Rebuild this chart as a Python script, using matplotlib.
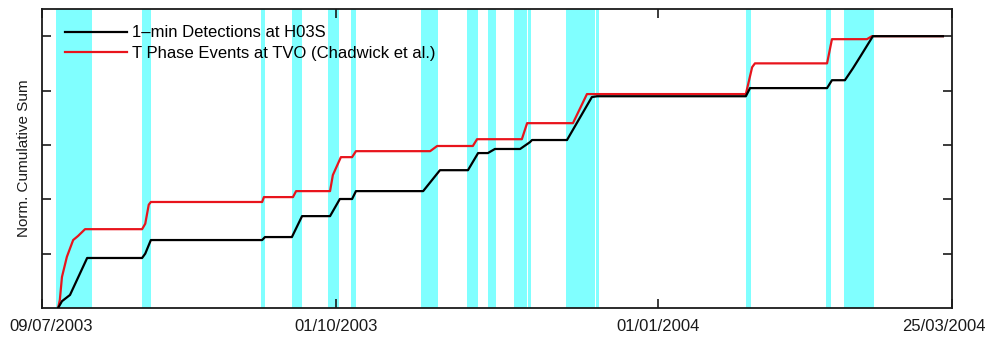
import pandas as pd
import matplotlib.pyplot as plt
import matplotlib.dates as mdates
from matplotlib.transforms import ScaledTranslation

plt.rcParams['font.family'] = ['Liberation Sans', 'DejaVu Sans']

start = pd.Timestamp('2003-07-09')
end = pd.Timestamp('2004-03-25')

# days since 09/07/2003, normalised cumulative sums
h03s_days = [4.6, 5.7, 8.0, 12.9, 28.6, 29.5, 31.1, 62.9, 63.7, 71.4, 74.3, 82.3, 85.1,
             88.6, 89.7, 108.9, 113.7, 121.7, 124.6, 127.4, 129.4, 136.6, 139.4, 140.0,
             150.0, 157.1, 158.6, 201.1, 202.3, 224.3, 225.7, 229.4, 231.7, 233.7,
             237.4, 257.4]
h03s_sum = [0.0, 0.025, 0.048, 0.184, 0.184, 0.20, 0.25, 0.25, 0.261, 0.261, 0.338, 0.338,
            0.401, 0.401, 0.43, 0.43, 0.507, 0.507, 0.57, 0.57, 0.585, 0.585, 0.61, 0.618,
            0.618, 0.776, 0.779, 0.779, 0.809, 0.809, 0.838, 0.838, 0.882, 0.923, 1.0, 1.0]

tvo_days = [4.6, 5.1, 5.7, 7.1, 8.9, 10.3, 12.3, 28.6, 29.5, 30.5, 31.1, 62.9, 63.4, 71.7,
            72.6, 82.3, 83.1, 84.0, 85.4, 88.6, 89.7, 110.9, 112.9, 123.1, 124.3, 137.1,
            138.6, 151.7, 155.7, 201.1, 202.9, 203.7, 224.3, 225.7, 235.7, 237.1, 257.4]
tvo_sum = [0.0, 0.03, 0.114, 0.188, 0.25, 0.265, 0.29, 0.29, 0.31, 0.38, 0.39, 0.39, 0.408,
           0.408, 0.43, 0.43, 0.489, 0.515, 0.555, 0.555, 0.577, 0.577, 0.596, 0.596, 0.621,
           0.621, 0.68, 0.68, 0.787, 0.787, 0.886, 0.90, 0.90, 0.989, 0.989, 1.0, 1.0]

# shaded periods (days since start)
span_start = [4.0, 28.6, 62.6, 71.4, 81.7, 88.3, 108.3, 121.4, 127.4, 134.9, 138.9,
              149.7, 158.3, 201.1, 224.0, 229.1]
span_end = [14.3, 31.1, 63.7, 74.3, 84.9, 89.7, 113.1, 124.6, 129.7, 138.6, 139.7,
            158.0, 159.1, 202.6, 225.4, 237.7]

tick_dates = ['2003-07-09', '2003-10-01', '2004-01-01', '2004-03-25']

def to_dates(days):
    return start + pd.to_timedelta(days, unit='D')

fig = plt.figure(figsize=(9.87, 3.38), dpi=100)
ax = fig.add_axes([42/987, 30/338, 910/987, 299/338])

for s, e in zip(to_dates(span_start), to_dates(span_end)):
    ax.axvspan(s, e, color='#80ffff', lw=0, zorder=0)

ax.plot(to_dates(h03s_days), h03s_sum, color='black', lw=1.6, label='1\u2013min Detections at H03S', zorder=3)
ax.plot(to_dates(tvo_days), tvo_sum, color='#e8141c', lw=1.6, label='T Phase Events at TVO (Chadwick et al.)', zorder=2)

ax.set_xlim(start, end)
ax.set_ylim(0, 1.1)
ax.set_xticks(pd.to_datetime(tick_dates))
ax.xaxis.set_major_formatter(mdates.DateFormatter('%d/%m/%Y'))
ax.set_yticks([0.2, 0.4, 0.6, 0.8, 1.0])
ax.set_yticklabels([])
ax.tick_params(direction='in', length=6.5, width=1.2, top=True, right=True,
               labelsize=12, pad=8, colors='#1a1a1a')
for sp in ax.spines.values():
    sp.set_linewidth(1.3)
    sp.set_color('#1a1a1a')

ax.set_ylabel('Norm. Cumulative Sum', fontsize=11, labelpad=0, color='#1a1a1a')

# end labels sit a little inside in the original
labels = ax.get_xticklabels()
labels[0].set_transform(labels[0].get_transform() + ScaledTranslation(0.09, 0, fig.dpi_scale_trans))
labels[-1].set_transform(labels[-1].get_transform() + ScaledTranslation(-0.08, 0, fig.dpi_scale_trans))

ax.legend(loc='upper left', bbox_to_anchor=(0.0253, 0.945), frameon=False, fontsize=12,
          borderpad=0, borderaxespad=0, handlelength=3.7, handletextpad=0.3, labelspacing=0.33)

fig.savefig('out.png', dpi=100)
